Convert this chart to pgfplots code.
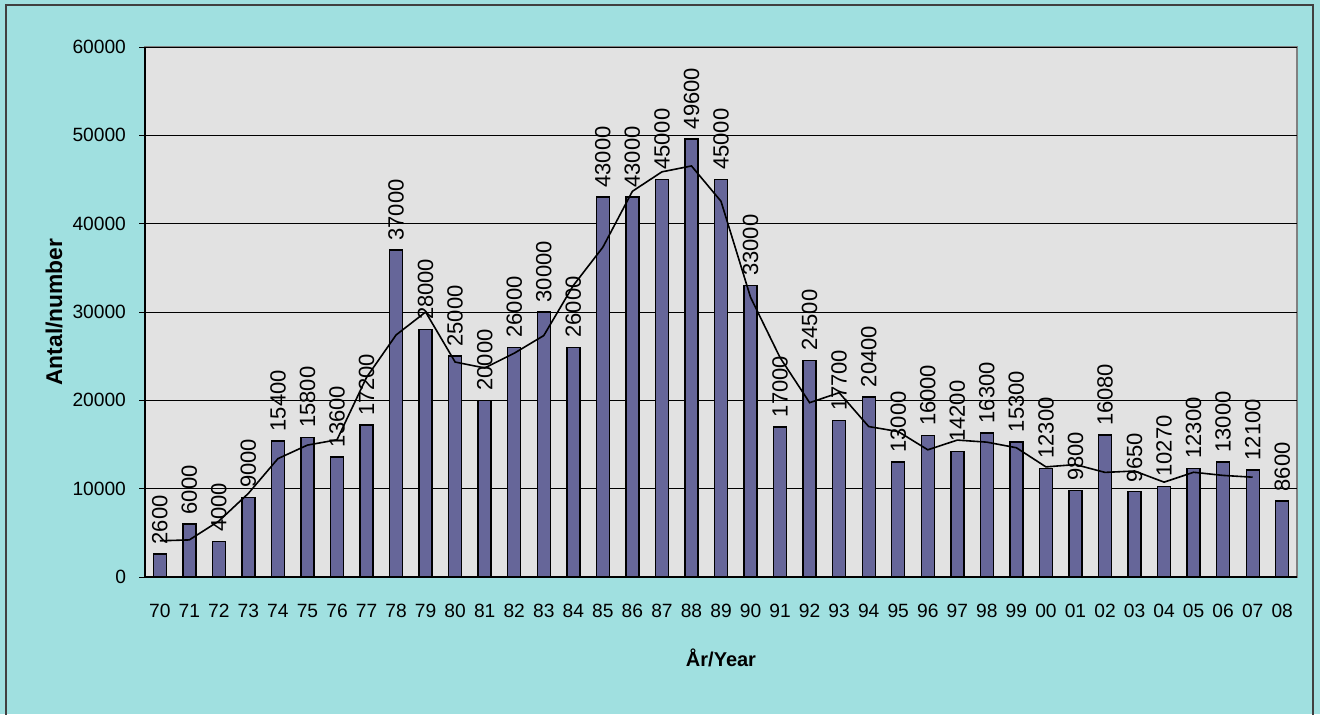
\documentclass[border=0pt]{standalone}
\usepackage{pgfplots}
\pgfplotsset{compat=1.18}
\usepackage{fontspec}
\setmainfont{Liberation Sans}

\definecolor{bgcyan}{RGB}{160,224,224}
\definecolor{plotgray}{RGB}{226,226,226}
\definecolor{barblue}{RGB}{102,102,153}
\definecolor{framegray}{RGB}{64,64,64}

\newcommand{\tickfont}{\fontsize{9.6}{11}\selectfont}

\begin{document}
\begin{tikzpicture}
\useasboundingbox (0,0) rectangle (660pt,357pt);
\fill[bgcyan] (0,0) rectangle (660pt,357pt);
\draw[framegray, line width=1pt] (3pt,-1pt) -- (3pt,354.5pt) -- (656.5pt,354.5pt) -- (656.5pt,-1pt);

\begin{axis}[
	at={(72.5pt,68.5pt)},
	anchor=south west,
	scale only axis,
	width=576pt,
	height=265pt,
	xmin=-0.5, xmax=38.5,
	ymin=0, ymax=60000,
	ytick={0,10000,...,60000},
	xtick={0,...,38},
	xticklabels={70,71,72,73,74,75,76,77,78,79,80,81,82,83,84,85,86,87,88,89,90,91,92,93,94,95,96,97,98,99,00,01,02,03,04,05,06,07,08},
	minor xtick={-0.5,0.5,...,38.5},
	scaled y ticks=false,
	/pgf/number format/1000 sep={},
	/pgf/number format/assume math mode=true,
	axis lines*=left,
	axis line style={-, black, line width=0.6pt},
	axis background/.style={fill=plotgray, draw=gray, line width=0.6pt},
	tick align=outside,
	major tick length=3pt,
	minor tick length=3pt,
	xtick style={draw=none},
	minor x tick style={black, line width=0.5pt},
	ytick style={black, line width=0.5pt},
	ymajorgrids=true,
	grid style={black, line width=0.5pt},
	xticklabel style={font=\tickfont, yshift=-7pt},
	yticklabel style={font=\tickfont, xshift=-3pt},
	ylabel={\textbf{Antal/number}},
	ylabel style={at={(axis description cs:-0.079,0.5)}, anchor=center, font=\fontsize{11.4}{13}\selectfont},
	xlabel={\textbf{År/Year}},
	xlabel style={at={(axis description cs:0.5,0)}, anchor=center, yshift=-40.5pt, font=\fontsize{10}{12}\selectfont},
	clip=false,
]

\addplot[
	ybar,
	bar width=6.5pt,
	fill=barblue,
	draw=black,
	line width=0.7pt,
	nodes near coords,
	every node near coord/.append style={rotate=90, anchor=west, inner sep=4.5pt, font=\fontsize{11}{13}\selectfont, black},
] coordinates {
(0,2600) (1,6000) (2,4000) (3,9000) (4,15400) (5,15800) (6,13600) (7,17200)
(8,37000) (9,28000) (10,25000) (11,20000) (12,26000) (13,30000) (14,26000)
(15,43000) (16,43000) (17,45000) (18,49600) (19,45000) (20,33000) (21,17000)
(22,24500) (23,17700) (24,20400) (25,13000) (26,16000) (27,14200) (28,16300)
(29,15300) (30,12300) (31,9800) (32,16080) (33,9650) (34,10270) (35,12300)
(36,13000) (37,12100) (38,8600)
};

\addplot[black, line width=0.8pt, mark=none] coordinates {
(0,4100) (1,4200) (2,6333) (3,9467) (4,13400) (5,14933) (6,15533) (7,22600)
(8,27400) (9,30000) (10,24333) (11,23667) (12,25333) (13,27333) (14,33000)
(15,37333) (16,43667) (17,45867) (18,46533) (19,42533) (20,31667) (21,24833)
(22,19733) (23,20867) (24,17033) (25,16467) (26,14400) (27,15500) (28,15267)
(29,14633) (30,12467) (31,12727) (32,11843) (33,12000) (34,10740) (35,11857)
(36,11500) (37,11300)
};

\end{axis}
\end{tikzpicture}
\end{document}
